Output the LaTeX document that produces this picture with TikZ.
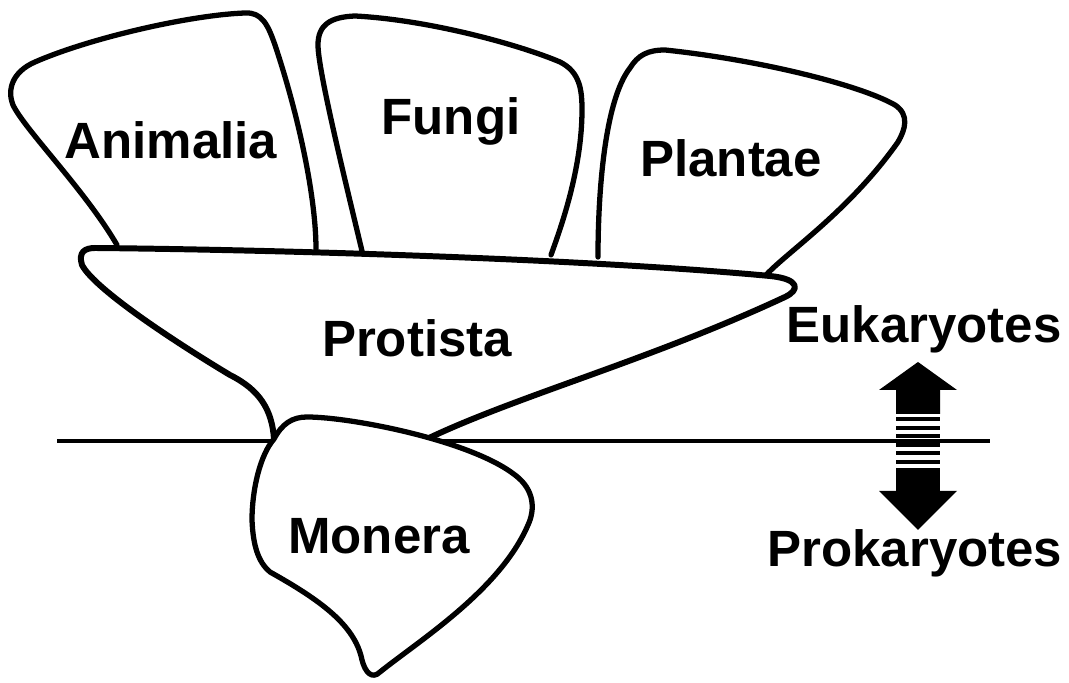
\documentclass[tikz,border=0pt]{standalone}
\usepackage{fontspec}
\setmainfont{Liberation Sans}
\begin{document}
\begin{tikzpicture}[x=0.01cm,y=-0.01cm,
  outline/.style={line width=1.5pt,line join=round,line cap=round},
  lbl/.style={inner sep=0pt,anchor=base,font=\fontsize{14.5pt}{16pt}\selectfont\bfseries}]
\useasboundingbox (0,0) rectangle (1069,683);
% divider line
\coordinate (L1) at (57,441);
\coordinate (L2) at (990,441);
\draw[line width=1.4pt] (L1) -- (L2);
% kingdoms
\draw[outline] (117,245) .. controls (85,190) and (25,130) .. (13,105)
  .. controls (7,90) and (12,72) .. (35,62)
  .. controls (90,38) and (190,15) .. (245,13)
  .. controls (262,12) and (268,25) .. (275,45)
  .. controls (300,120) and (316,200) .. (316,249);
\draw[outline] (362,251) .. controls (345,180) and (318,70) .. (318,45)
  .. controls (318,25) and (330,17) .. (355,16)
  .. controls (430,20) and (520,45) .. (560,62)
  .. controls (580,72) and (582,90) .. (582,110)
  .. controls (582,170) and (560,230) .. (551,255);
\draw[outline] (598,257) .. controls (598,190) and (605,100) .. (630,68)
  .. controls (638,55) and (648,50) .. (665,50)
  .. controls (760,60) and (860,85) .. (895,105)
  .. controls (910,115) and (905,130) .. (898,142)
  .. controls (850,210) and (790,250) .. (767,274);
% protista
\fill[white] (95,248) .. controls (300,250) and (600,260) .. (770,276)
  .. controls (800,279) and (800,290) .. (785,297)
  .. controls (650,360) and (520,395) .. (429,438)
  -- (274,439)
  .. controls (272,410) and (260,390) .. (230,375)
  .. controls (180,345) and (95,290) .. (82,265)
  .. controls (78,252) and (85,248) .. (95,248) -- cycle;
\draw[outline,line width=1.7pt] (429,438) .. controls (520,395) and (650,360) .. (785,297)
  .. controls (800,290) and (800,279) .. (770,276)
  .. controls (600,260) and (300,250) .. (95,248)
  .. controls (85,248) and (78,252) .. (82,265)
  .. controls (95,290) and (180,345) .. (230,375)
  .. controls (260,390) and (272,410) .. (274,439);
% monera
\filldraw[outline,fill=white] (274,439) .. controls (282,424) and (292,417) .. (307,417)
  .. controls (350,417) and (470,440) .. (515,475)
  .. controls (535,490) and (535,510) .. (528,525)
  .. controls (500,590) and (420,640) .. (380,672)
  .. controls (372,680) and (365,672) .. (362,660)
  .. controls (355,625) and (320,600) .. (270,572)
  .. controls (258,562) and (253,545) .. (252,520)
  .. controls (252,490) and (260,455) .. (274,439) -- cycle;
% labels
\node[lbl] (anim) at (171,159) {Animalia};
\node[lbl] (fung) at (451,135) {Fungi};
\node[lbl] (plan) at (731,177) {Plantae};
\node[lbl] (prot) at (417,357) {Protista};
\node[lbl] (mone) at (379,554) {Monera};
\node[lbl] (euk) at (924,343) {Eukaryotes};
\node[lbl] (pro) at (915,567) {Prokaryotes};
% double arrow with stripes
\fill (918,362) -- (957,390) -- (940,390) -- (940,414) -- (896,414) -- (896,390) -- (879,390) -- cycle;
\foreach \yy in {419.5,428,436.5,445,453.5,462}
  \fill (896,\yy-2) rectangle (940,\yy+2);
\fill (896,468) rectangle (940,491);
\fill (879,491) -- (957,491) -- (918,530) -- cycle;
\end{tikzpicture}
\end{document}
